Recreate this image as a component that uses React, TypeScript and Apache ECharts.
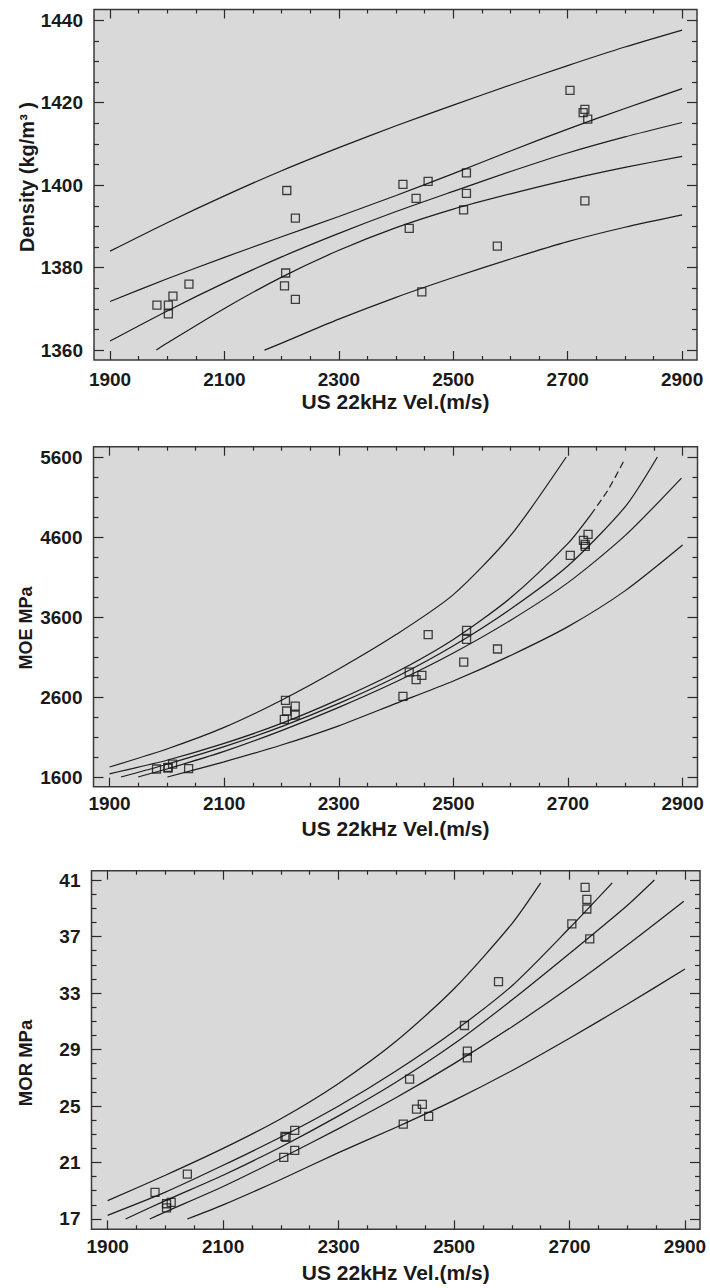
import React, { useEffect, useRef } from "react";
import * as echarts from "echarts";

// ---- shared sample velocities (m/s) ----
const velocity = [1982, 2002, 2002, 2010, 2038, 2205, 2207, 2209, 2224, 2224, 2412, 2423, 2435, 2445, 2456, 2518, 2523, 2523, 2577, 2704, 2727, 2730, 2730, 2735];

// ---- measured values ----
const density = [1370.9, 1370.9, 1368.8, 1373.1, 1376.0, 1375.6, 1378.7, 1398.7, 1392.0, 1372.3, 1400.2, 1389.5, 1396.8, 1374.1, 1400.9, 1394.0, 1403.0, 1398.0, 1385.2, 1423.0, 1417.6, 1418.4, 1396.2, 1416.0];
const moe = [1700, 1721, 1712, 1762, 1704, 2321, 2558, 2425, 2487, 2375, 2608, 2912, 2817, 2871, 3379, 3037, 3433, 3321, 3200, 4371, 4558, 4508, 4483, 4633];
const mor = [18.89, 18.08, 17.78, 18.18, 20.18, 21.36, 22.85, 22.78, 23.27, 21.86, 23.72, 26.9, 24.78, 25.11, 24.26, 30.7, 28.88, 28.41, 33.81, 37.89, 40.48, 39.63, 38.95, 36.83];

// ---- density curves: prediction upper, confidence upper, fit, confidence lower, prediction lower ----
const densPredUpper = [[1900, 1384.0], [2000, 1390.9], [2100, 1397.4], [2200, 1403.5], [2300, 1409.1], [2400, 1414.4], [2500, 1419.4], [2600, 1424.3], [2700, 1429.0], [2800, 1433.5], [2900, 1437.6]];
const densConfUpper = [[1900, 1371.8], [2000, 1377.3], [2100, 1382.5], [2200, 1387.5], [2300, 1392.4], [2400, 1397.5], [2500, 1402.8], [2600, 1408.3], [2700, 1413.6], [2800, 1418.6], [2900, 1423.4]];
const densFit = [[1900, 1362.2], [2000, 1369.5], [2100, 1376.3], [2200, 1382.6], [2300, 1388.3], [2400, 1393.6], [2500, 1398.5], [2600, 1403.3], [2700, 1407.8], [2800, 1411.7], [2900, 1415.2]];
const densConfLower = [[1981, 1360.0], [2000, 1361.7], [2100, 1370.1], [2200, 1377.7], [2300, 1384.2], [2400, 1389.7], [2500, 1394.2], [2600, 1397.9], [2700, 1401.3], [2800, 1404.3], [2900, 1407.0]];
const densPredLower = [[2170, 1360.0], [2200, 1361.7], [2300, 1367.5], [2400, 1372.8], [2500, 1377.6], [2600, 1382.1], [2700, 1386.3], [2800, 1389.8], [2900, 1392.8]];

// ---- MOE curves ----
const moePredUpper = [[1900, 1725], [2000, 1950], [2100, 2220], [2200, 2560], [2300, 2950], [2400, 3380], [2500, 3880], [2600, 4620], [2697, 5600]];
const moeConfUpper = [[1900, 1640], [2000, 1810], [2100, 2020], [2200, 2270], [2300, 2570], [2400, 2910], [2500, 3320], [2600, 3840], [2700, 4520], [2740, 4880]];
const moeConfUpperDashed = [[2740, 4880], [2770, 5190], [2798, 5558]];
const moeFit = [[1920, 1600], [2000, 1760], [2100, 1980], [2200, 2230], [2300, 2520], [2400, 2850], [2500, 3240], [2600, 3700], [2700, 4240], [2800, 4980], [2856, 5600]];
const moeConfLower = [[1950, 1600], [2000, 1700], [2100, 1920], [2200, 2180], [2300, 2470], [2400, 2790], [2500, 3150], [2600, 3560], [2700, 4030], [2800, 4620], [2898, 5337]];
const moePredLower = [[2001, 1600], [2100, 1790], [2200, 2000], [2300, 2240], [2400, 2520], [2500, 2800], [2600, 3120], [2700, 3480], [2800, 3930], [2900, 4500]];

// ---- MOR curves ----
const morPredUpper = [[1900, 18.3], [2000, 20.1], [2100, 22.0], [2200, 24.1], [2300, 26.6], [2400, 29.6], [2500, 33.3], [2600, 37.9], [2650, 40.8]];
const morConfUpper = [[1900, 17.26], [2000, 18.9], [2100, 20.8], [2200, 22.8], [2300, 25.0], [2400, 27.5], [2500, 30.3], [2600, 33.5], [2700, 37.6], [2774, 40.8]];
const morFit = [[1931, 17.0], [2000, 18.3], [2100, 20.1], [2200, 22.1], [2300, 24.3], [2400, 26.7], [2500, 29.4], [2600, 32.5], [2700, 35.8], [2800, 39.2], [2847, 41.0]];
const morConfLower = [[1973, 17.0], [2000, 17.5], [2100, 19.3], [2200, 21.3], [2300, 23.4], [2400, 25.6], [2500, 28.0], [2600, 30.6], [2700, 33.4], [2800, 36.4], [2898, 39.5]];
const morPredLower = [[2038, 17.0], [2100, 18.0], [2200, 19.8], [2300, 21.7], [2400, 23.5], [2500, 25.4], [2600, 27.5], [2700, 29.8], [2800, 32.2], [2900, 34.7]];

// ---- tick labels ----
const xMajorTicks = [1900, 2100, 2300, 2500, 2700, 2900];
const densityTicks = [1360, 1380, 1400, 1420, 1440];
const moeTicks = [1600, 2600, 3600, 4600, 5600];
const morTicks = [17, 21, 25, 29, 33, 37, 41];

const X_TITLE = "US 22kHz Vel.(m/s)";
const FONT = "Liberation Sans, Arial, Helvetica, sans-serif";
const INK = "#1a1a1a";

function steps(a: number, b: number, s: number, exclude: number[]) {
  const out: number[] = [];
  for (let v = a; v <= b + 1e-9; v += s) {
    const r = Math.round(v * 1000) / 1000;
    if (!exclude.some((e) => Math.abs(e - r) < 1e-6)) out.push(r);
  }
  return out;
}

type PanelCfg = {
  grid: { left: number; top: number; width: number; height: number };
  yMin: number;
  yMax: number;
  yMajor: number[];
  yMinor: number[];
  labelMargin: number;
  nameGap: number;
  values: number[];
  lines: { data: number[][]; dashed?: boolean }[];
  yTitle: string;
  yTitleX: number;
  yTitleY: number;
  yTitleSize: number;
};

const X_MIN = 1872;
const X_MAX = 2926;
const xMinorTicks = steps(1900, 2900, 50, xMajorTicks);
const plain = (v: number) => String(v);

function buildOption(panels: PanelCfg[]) {
  const grid: any[] = [];
  const xAxis: any[] = [];
  const yAxis: any[] = [];
  const series: any[] = [];
  const graphic: any[] = [];
  const tickStyle = { color: "#2a2a2a", width: 1.2 };
  panels.forEach((p, g) => {
    grid.push({
      ...p.grid,
      show: true,
      backgroundColor: "#d9d9d9",
      borderColor: "#3a3a3a",
      borderWidth: 1.5,
      containLabel: false,
    });
    const xb = { type: "value", gridIndex: g, min: X_MIN, max: X_MAX, splitLine: { show: false }, axisLine: { show: false } };
    const yb = { type: "value", gridIndex: g, min: p.yMin, max: p.yMax, splitLine: { show: false }, axisLine: { show: false } };
    const labelStyle = { fontSize: 19, fontWeight: "bold", color: INK, fontFamily: FONT, formatter: plain };
    // x axes
    xAxis.push({
      ...xb,
      position: "bottom",
      axisTick: { show: true, inside: true, length: 9, customValues: xMajorTicks, lineStyle: tickStyle },
      axisLabel: { show: true, customValues: xMajorTicks, margin: p.labelMargin, ...labelStyle },
      name: X_TITLE,
      nameLocation: "middle",
      nameGap: p.nameGap,
      nameTextStyle: { fontSize: 21, fontWeight: "bold", color: INK, fontFamily: FONT },
    });
    xAxis.push({ ...xb, position: "bottom", axisTick: { show: true, inside: true, length: 4, customValues: xMinorTicks, lineStyle: tickStyle }, axisLabel: { show: false } });
    xAxis.push({ ...xb, position: "top", axisTick: { show: true, inside: true, length: 9, customValues: xMajorTicks, lineStyle: tickStyle }, axisLabel: { show: false } });
    xAxis.push({ ...xb, position: "top", axisTick: { show: true, inside: true, length: 4, customValues: xMinorTicks, lineStyle: tickStyle }, axisLabel: { show: false } });
    // y axes
    yAxis.push({
      ...yb,
      position: "left",
      axisTick: { show: true, inside: true, length: 10, customValues: p.yMajor, lineStyle: tickStyle },
      axisLabel: { show: true, customValues: p.yMajor, margin: 11, ...labelStyle },
    });
    yAxis.push({ ...yb, position: "left", axisTick: { show: true, inside: true, length: 5, customValues: p.yMinor, lineStyle: tickStyle }, axisLabel: { show: false } });
    yAxis.push({ ...yb, position: "right", axisTick: { show: true, inside: true, length: 10, customValues: p.yMajor, lineStyle: tickStyle }, axisLabel: { show: false } });
    yAxis.push({ ...yb, position: "right", axisTick: { show: true, inside: true, length: 5, customValues: p.yMinor, lineStyle: tickStyle }, axisLabel: { show: false } });

    p.lines.forEach((l) => {
      series.push({
        type: "line",
        xAxisIndex: g * 4,
        yAxisIndex: g * 4,
        data: l.data,
        showSymbol: false,
        smooth: 0.25,
        silent: true,
        lineStyle: { color: "#1c1c1c", width: 1.2, type: l.dashed ? [7, 4] : "solid" },
        z: 2,
      });
    });
    series.push({
      type: "scatter",
      xAxisIndex: g * 4,
      yAxisIndex: g * 4,
      data: velocity.map((v, i) => [v, p.values[i]]),
      symbol: "rect",
      symbolSize: 8,
      itemStyle: { color: "rgba(0,0,0,0)", borderColor: "#151515", borderWidth: 1.3 },
      silent: true,
      z: 3,
    });
    graphic.push({
      type: "text",
      x: p.yTitleX,
      y: p.yTitleY,
      rotation: Math.PI / 2,
      style: {
        text: p.yTitle,
        fontSize: p.yTitleSize,
        fontWeight: "bold",
        fontFamily: FONT,
        fill: INK,
        align: "center",
        verticalAlign: "middle",
      },
    });
  });
  return { animation: false, backgroundColor: "#ffffff", grid, xAxis, yAxis, series, graphic };
}

export default function App() {
  const ref = useRef<HTMLDivElement>(null);
  useEffect(() => {
    if (!ref.current) return;
    const chart = echarts.init(ref.current, undefined, { renderer: "svg" });
    const panels: PanelCfg[] = [
      {
        grid: { left: 94, top: 9.5, width: 603, height: 350.5 },
        yMin: 1357.6,
        yMax: 1442.6,
        yMajor: densityTicks,
        yMinor: steps(1360, 1440, 5, densityTicks),
        labelMargin: 10,
        nameGap: 31,
        values: density,
        lines: [
          { data: densPredUpper },
          { data: densConfUpper },
          { data: densFit },
          { data: densConfLower },
          { data: densPredLower },
        ],
        yTitle: "Density (kg/m³ )",
        yTitleX: 27,
        yTitleY: 177,
        yTitleSize: 20,
      },
      {
        grid: { left: 93.5, top: 446.7, width: 604, height: 340 },
        yMin: 1479,
        yMax: 5729,
        yMajor: moeTicks,
        yMinor: steps(1600, 5600, 250, moeTicks),
        labelMargin: 7,
        nameGap: 31,
        values: moe,
        lines: [
          { data: moePredUpper },
          { data: moeConfUpper },
          { data: moeConfUpperDashed, dashed: true },
          { data: moeFit },
          { data: moeConfLower },
          { data: moePredLower },
        ],
        yTitle: "MOE MPa",
        yTitleX: 26,
        yTitleY: 628,
        yTitleSize: 18,
      },
      {
        grid: { left: 91.5, top: 870.7, width: 608.5, height: 358.6 },
        yMin: 16.27,
        yMax: 41.66,
        yMajor: morTicks,
        yMinor: steps(17, 41, 1, morTicks),
        labelMargin: 8,
        nameGap: 33,
        values: mor,
        lines: [
          { data: morPredUpper },
          { data: morConfUpper },
          { data: morFit },
          { data: morConfLower },
          { data: morPredLower },
        ],
        yTitle: "MOR MPa",
        yTitleX: 25,
        yTitleY: 1063,
        yTitleSize: 18.5,
      },
    ];
    chart.setOption(buildOption(panels) as any);
    return () => chart.dispose();
  }, []);
  return <div ref={ref} style={{ position: "absolute", left: 0, top: 0, width: 710, height: 1288 }} />;
}
